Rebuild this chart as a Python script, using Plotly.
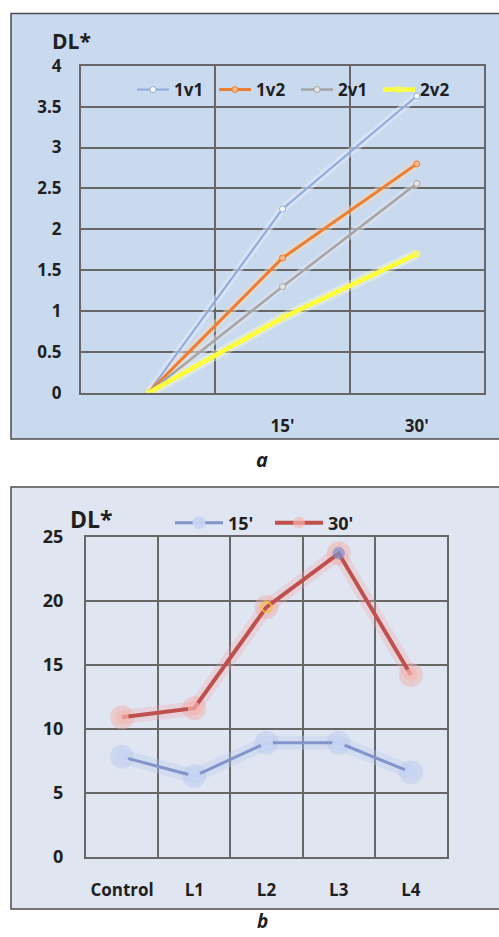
import plotly.graph_objects as go

# ---- data: chart a ----
times_a = [" ", "15'", "30'"]
s_1v1 = [0, 2.25, 3.63]
s_1v2 = [0, 1.65, 2.80]
s_2v1 = [0, 1.30, 2.56]
s_2v2 = [0, 0.92, 1.70]
yticks_a = [0, 0.5, 1, 1.5, 2, 2.5, 3, 3.5, 4]

# ---- data: chart b ----
groups_b = ["Control", "L1", "L2", "L3", "L4"]
b_15 = [7.8, 6.3, 8.9, 8.9, 6.6]
b_30 = [10.9, 11.6, 19.5, 23.7, 14.2]
yticks_b = [0, 5, 10, 15, 20, 25]

W, H = 499, 937
FONT = "Open Sans"
TXT = "#1f1f1f"
GRID = "#676767"


def px(x):
    return x / W


def py(y):
    return 1 - y / H


fig = go.Figure()

# ---------- chart a ----------
series_a = [
    ("1v1", s_1v1, "#8eaadb", 2, "rgba(225,235,250,0.55)", 8, "#ffffff"),
    ("1v2", s_1v2, "#ed7d31", 3, "rgba(250,215,180,0.45)", 9, "#f7b88a"),
    ("2v1", s_2v1, "#a5a5a5", 2.5, "rgba(225,228,235,0.5)", 8, "#e6e6e6"),
    ("2v2", s_2v2, "#fdfd3c", 4.5, "rgba(255,255,200,0.4)", 10, "#f4f47a"),
]
for name, vals, col, w, glow, gw, mfill in series_a:
    fig.add_trace(go.Scatter(
        x=times_a, y=vals, mode="lines", xaxis="x", yaxis="y",
        line=dict(color=glow, width=gw), showlegend=False, hoverinfo="skip"))
for name, vals, col, w, glow, gw, mfill in series_a:
    fig.add_trace(go.Scatter(
        x=times_a, y=vals, mode="lines+markers", name=name, xaxis="x", yaxis="y",
        line=dict(color=col, width=w),
        marker=dict(size=6, color=mfill, line=dict(color=col, width=1)),
        legend="legend"))

# ---------- chart b ----------
# glow layers
fig.add_trace(go.Scatter(
    x=groups_b, y=b_15, mode="lines+markers", xaxis="x2", yaxis="y2",
    line=dict(color="rgba(185,200,240,0.35)", width=14),
    marker=dict(size=24, color="rgba(185,200,240,0.45)"),
    showlegend=False, hoverinfo="skip"))
fig.add_trace(go.Scatter(
    x=groups_b, y=b_30, mode="lines+markers", xaxis="x2", yaxis="y2",
    line=dict(color="rgba(245,165,165,0.30)", width=14),
    marker=dict(size=24, color="rgba(245,170,165,0.45)"),
    showlegend=False, hoverinfo="skip"))

fig.add_trace(go.Scatter(
    x=groups_b, y=b_15, mode="lines+markers", name="15'", xaxis="x2", yaxis="y2",
    line=dict(color="#8393cc", width=3),
    marker=dict(size=13, color="rgba(200,212,242,0.95)"),
    legend="legend2"))
fig.add_trace(go.Scatter(
    x=groups_b, y=b_30, mode="lines+markers", name="30'", xaxis="x2", yaxis="y2",
    line=dict(color="#c0504d", width=4),
    marker=dict(size=[13, 13, 10, 10, 13],
                color=["rgba(246,185,178,0.95)", "rgba(246,185,178,0.95)",
                       "rgba(0,0,0,0)", "#7f92d0", "rgba(246,185,178,0.95)"],
                line=dict(color=["rgba(0,0,0,0)", "rgba(0,0,0,0)", "#f3c22a",
                                 "#7f92d0", "rgba(0,0,0,0)"], width=2.5)),
    legend="legend2"))

# ---------- axes ----------
common_x = dict(type="category", tickson="boundaries", showgrid=True,
                gridcolor=GRID, gridwidth=2, showline=True, mirror=True,
                linecolor=GRID, linewidth=2, ticks="", zeroline=False,
                tickfont=dict(family=FONT, size=17, color=TXT, weight="bold"),
                ticklabelstandoff=17, fixedrange=True, automargin=False)
common_y = dict(showgrid=True, gridcolor=GRID, gridwidth=2, showline=True,
                mirror=True, linecolor=GRID, linewidth=2, ticks="",
                zeroline=False, fixedrange=True, automargin=False)

fig.update_layout(
    xaxis=dict(common_x, domain=[px(81), px(484)], anchor="y",
               categoryorder="array", categoryarray=times_a,
               range=[-0.5, len(times_a) - 0.5]),
    yaxis=dict(common_y, domain=[py(393), py(65.7)], anchor="x",
               range=[0, 4], tickvals=yticks_a,
               ticktext=[f"{v:g}" for v in yticks_a], ticklabelstandoff=14,
               tickfont=dict(family=FONT, size=17, color=TXT, weight="bold")),
    xaxis2=dict(common_x, domain=[px(86), px(447)], anchor="y2",
                categoryorder="array", categoryarray=groups_b,
                range=[-0.5, len(groups_b) - 0.5]),
    yaxis2=dict(common_y, domain=[py(856.7), py(536.7)], anchor="x2",
                range=[0, 25], tickvals=yticks_b, ticklabelstandoff=17,
                tickfont=dict(family=FONT, size=18, color=TXT, weight="bold")),
)

# ---------- legends ----------
fig.update_layout(
    legend=dict(orientation="h", x=px(132), y=py(90), xanchor="left",
                yanchor="middle", bgcolor="rgba(0,0,0,0)", itemwidth=32,
                entrywidth=35, entrywidthmode="pixels",
                font=dict(family=FONT, size=17, color=TXT, weight="bold"),
                tracegroupgap=0, itemclick=False, itemdoubleclick=False),
    legend2=dict(orientation="h", x=px(170), y=py(523), xanchor="left",
                 yanchor="middle", bgcolor="rgba(0,0,0,0)", itemwidth=48,
                 entrywidth=37, entrywidthmode="pixels",
                 font=dict(family=FONT, size=18, color=TXT, weight="bold"),
                 itemclick=False, itemdoubleclick=False),
)

# ---------- panel boxes ----------
fig.update_layout(shapes=[
    dict(type="rect", xref="paper", yref="paper", x0=px(11), x1=px(505),
         y0=py(439), y1=py(13.5), fillcolor="#c9daef",
         line=dict(color="#4d4d4d", width=1.5), layer="below"),
    dict(type="rect", xref="paper", yref="paper", x0=px(11), x1=px(505),
         y0=py(909), y1=py(487), fillcolor="#dfe6f1",
         line=dict(color="#4d4d4d", width=1.5), layer="below"),
])

# ---------- texts ----------
fig.update_layout(annotations=[
    dict(text="DL*", xref="paper", yref="paper", x=px(50), y=py(41),
         xanchor="left", yanchor="middle", showarrow=False,
         font=dict(family=FONT, size=21, color=TXT, weight="bold")),
    dict(text="DL*", xref="paper", yref="paper", x=px(68), y=py(519),
         xanchor="left", yanchor="middle", showarrow=False,
         font=dict(family=FONT, size=23, color=TXT, weight="bold")),
    dict(text="<b><i>a</i></b>", xref="paper", yref="paper", x=px(262), y=py(459),
         xanchor="center", yanchor="middle", showarrow=False,
         font=dict(family=FONT, size=20, color=TXT)),
    dict(text="<b><i>b</i></b>", xref="paper", yref="paper", x=px(262), y=py(936),
         xanchor="center", yanchor="bottom", showarrow=False,
         font=dict(family=FONT, size=19, color=TXT)),
])

fig.update_layout(
    width=W, height=H, autosize=False,
    margin=dict(l=0, r=0, t=0, b=0, pad=0, autoexpand=False),
    paper_bgcolor="white", plot_bgcolor="rgba(0,0,0,0)",
    hovermode=False,
)

fig.write_html("out.html", include_plotlyjs=True,
               config={"displayModeBar": False, "staticPlot": True},
               post_script="document.body.style.margin='0';document.body.style.overflow='hidden';")
